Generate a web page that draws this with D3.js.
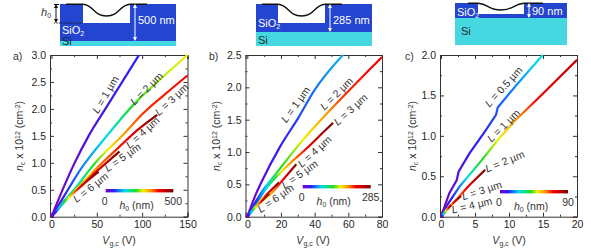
<!DOCTYPE html>
<html>
<head>
<meta charset="utf-8">
<script src="https://cdn.jsdelivr.net/npm/d3@7"></script>
<style>
  html, body { margin: 0; padding: 0; background: #fff; }
  svg { display: block; font-family: "Liberation Sans", Arial, sans-serif; }
  .tick text { font-size: 10.5px; fill: #262626; }
  .lab { font-size: 10.5px; fill: #333; }
</style>
</head>
<body>
<div id="chart"></div>
<script>
// colour bar: fraction of h0 max -> colour
const rainbowStops = [0, 0.12, 0.28, 0.45, 0.55, 0.67, 0.78, 1];
const rainbowColors = ['#7b00c4', '#2a20f5', '#00dcf0', '#22dd22', '#f2f000', '#ff9000', '#f80000', '#7a0000'];

// panel a, h0 max 500 nm
const aVg1 = [0, 13, 25, 41, 59.4, 78, 96.5];
const aNc1 = [0, 0.53, 0.98, 1.5, 2, 2.5, 3];
const aH1 = [0, 12, 22, 32, 42, 52, 60];
const aVg2 = [0, 14.5, 33, 62, 90, 120, 150];
const aNc2 = [0, 0.4, 0.9, 1.52, 2.07, 2.55, 3.0];
const aH2 = [0, 60, 100, 145, 225, 260, 275];
const aVg3 = [0, 22, 51, 79, 100, 125, 150];
const aNc3 = [0, 0.44, 1.05, 1.52, 1.9, 2.27, 2.62];
const aH3 = [0, 125, 240, 325, 370, 380, 390];
const aVg4 = [0, 18, 35, 51, 75, 95, 116.6];
const aNc4 = [0, 0.37, 0.65, 0.92, 1.3, 1.61, 1.89];
const aH4 = [0, 140, 260, 340, 380, 425, 500];
const aVg5 = [0, 10, 25, 40, 55, 75];
const aNc5 = [0, 0.2, 0.47, 0.7, 0.92, 1.21];
const aH5 = [0, 100, 250, 360, 420, 500];
const aVg6 = [0, 5, 15, 25, 35, 52];
const aNc6 = [0, 0.1, 0.29, 0.45, 0.6, 0.835];
const aH6 = [0, 75, 225, 350, 425, 500];

// panel b, h0 max 285 nm
const bVg1 = [0, 5.3, 8.5, 19.4, 30.1, 40, 56.8];
const bNc1 = [0, 0.36, 0.54, 1.08, 1.52, 1.96, 2.5];
const bH1 = [0, 9, 13, 31, 43, 54, 71];
const bVg2 = [0, 9.3, 17.2, 33.5, 46, 56.8, 80];
const bNc2 = [0, 0.41, 0.67, 1.2, 1.56, 1.855, 2.47];
const bH2 = [0, 57, 120, 157, 185, 211, 228];
const bVg3 = [0, 3.4, 11.3, 23.2, 35, 46.5, 50.9];
const bNc3 = [0, 0.13, 0.44, 0.77, 1.05, 1.34, 1.45];
const bH3 = [0, 23, 85, 177, 222, 271, 285];
const bVg4 = [0, 5, 13.3, 21.2, 29.1];
const bNc4 = [0, 0.17, 0.335, 0.57, 0.81];
const bH4 = [0, 80, 177, 228, 285];
const bVg5 = [0, 5, 11, 18.8];
const bNc5 = [0, 0.16, 0.33, 0.53];
const bH5 = [0, 114, 214, 285];
const bVg6 = [0, 4, 8.5, 13];
const bNc6 = [0, 0.12, 0.24, 0.36];
const bH6 = [0, 140, 230, 285];

// panel c, h0 max 90 nm
const cVg05 = [0, 1.22, 2.3, 2.6, 4.16, 6.6, 8.09, 8.34, 11, 14.95];
const cNc05 = [0, 0.29, 0.45, 0.56, 0.78, 1.07, 1.26, 1.35, 1.62, 2.0];
const cH05 = [0, 3, 5, 6, 9, 12, 14, 15, 19, 27];
const cVg1 = [0, 0.25, 2.7, 5.6, 8.57, 11, 14, 20];
const cNc1 = [0, 0.06, 0.37, 0.66, 0.97, 1.2, 1.44, 1.94];
const cH1 = [0, 3, 18, 38, 50, 59, 70, 79];
const cVg2 = [0, 0.8, 1.96, 4.16, 6.5];
const cNc2 = [0, 0.08, 0.185, 0.39, 0.58];
const cH2 = [0, 25, 58, 74, 90];
const cVg3 = [0, 0.8, 1.8, 2.94];
const cNc3 = [0, 0.08, 0.17, 0.256];
const cH3 = [0, 35, 70, 90];
const cVg4 = [0, 0.5, 1.47];
const cNc4 = [0, 0.05, 0.145];
const cH4 = [0, 40, 90];

// tick labels
const aXTicks = [0, 50, 100, 150];
const aXMinor = [25, 75, 125];
const aYTicks = [0, 0.5, 1, 1.5, 2, 2.5, 3];
const aYMinor = [0.25, 0.75, 1.25, 1.75, 2.25, 2.75];
const bXTicks = [0, 20, 40, 60, 80];
const bXMinor = [10, 30, 50, 70];
const bYTicks = [0, 0.5, 1, 1.5, 2, 2.5];
const bYMinor = [0.25, 0.75, 1.25, 1.75, 2.25];
const cXTicks = [0, 5, 10, 15, 20];
const cXMinor = [2.5, 7.5, 12.5, 17.5];
const cYTicks = [0, 0.5, 1, 1.5, 2];
const cYMinor = [0.25, 0.75, 1.25, 1.75];

const svg = d3.select('#chart').append('svg').attr('width', 591).attr('height', 252);
const defs = svg.append('defs');

const colourOf = d3.scaleLinear().domain(rainbowStops).range(rainbowColors).clamp(true);

let gradId = 0;

function makePanel(p) {
  const x = d3.scaleLinear().domain([p.xLo, p.xMax]).range([p.left, p.right]);
  const y = d3.scaleLinear().domain([0, p.yMax]).range([216.7, 55]);
  const g = svg.append('g');

  const fmtY = d3.format('.1f');
  const axes = [
    [d3.axisBottom(x), 216.7, 'x', p.xTicks, p.xMinor, d3.format('d'), -4],
    [d3.axisTop(x), 55, 'x', p.xTicks, p.xMinor, '', -4],
    [d3.axisLeft(y), p.left, 'y', p.yTicks, p.yMinor, fmtY, -4],
    [d3.axisRight(y), p.right, 'y', p.yTicks, p.yMinor, '', -4]
  ];
  axes.forEach(function(a) {
    const tr = a[2] === 'x' ? `translate(0,${a[1]})` : `translate(${a[1]},0)`;
    const major = a[0].tickValues(a[3]).tickSize(a[6]).tickPadding(4)
      .tickFormat(a[5] === '' ? () => '' : a[5]);
    const ga = g.append('g').attr('transform', tr).call(major);
    ga.selectAll('path,line').attr('stroke', '#333').attr('stroke-width', 1);
    const gm = g.append('g').attr('transform', tr)
      .call(major.tickValues(a[4]).tickSize(-2).tickFormat(() => ''));
    gm.select('path').remove();
    gm.selectAll('line').attr('stroke', '#333').attr('stroke-width', 1);
  });

  // curves, coloured along their length by h0
  const line = d3.line().x(d => x(d[0])).y(d => y(d[1])).curve(p.curve);
  p.curves.forEach(function(c) {
    const pts = c.vg.map((v, i) => [v, c.nc[i]]);
    const x0 = x(pts[0][0]), y0 = y(pts[0][1]);
    const x1 = x(pts[pts.length - 1][0]), y1 = y(pts[pts.length - 1][1]);
    const len2 = (x1 - x0) * (x1 - x0) + (y1 - y0) * (y1 - y0);
    const id = 'curve' + (gradId++);
    const grad = defs.append('linearGradient').attr('id', id)
      .attr('gradientUnits', 'userSpaceOnUse')
      .attr('x1', x0).attr('y1', y0).attr('x2', x1).attr('y2', y1);
    // extra stops at the colour bar breaks so the hues stay pure
    const stops = [];
    pts.forEach(function(d, i) {
      const off = ((x(d[0]) - x0) * (x1 - x0) + (y(d[1]) - y0) * (y1 - y0)) / len2;
      stops.push([off, c.h[i] / p.hMax]);
      if (i < pts.length - 1) {
        const next = ((x(pts[i + 1][0]) - x0) * (x1 - x0) + (y(pts[i + 1][1]) - y0) * (y1 - y0)) / len2;
        const ta = c.h[i] / p.hMax, tb = c.h[i + 1] / p.hMax;
        rainbowStops.forEach(function(s) {
          if (s > ta && s < tb) stops.push([off + (next - off) * (s - ta) / (tb - ta), s]);
        });
      }
    });
    stops.forEach(function(s) {
      grad.append('stop').attr('offset', s[0]).attr('stop-color', colourOf(s[1]));
    });
    g.append('path').attr('d', line(pts)).attr('fill', 'none')
      .attr('stroke', `url(#${id})`).attr('stroke-width', 2.2)
      .attr('stroke-linecap', 'butt');
  });

  // curve labels
  p.labels.forEach(function(l) {
    const t = g.append('text').attr('class', 'lab').attr('text-anchor', 'middle')
      .attr('dominant-baseline', 'middle')
      .attr('transform', `translate(${l[1]},${l[2]}) rotate(${l[3]})`);
    t.append('tspan').attr('font-style', 'italic').text('L');
    t.append('tspan').text(` = ${l[0]} µm`);
  });

  // h0 colour bar
  const barId = 'bar' + p.name;
  const bar = defs.append('linearGradient').attr('id', barId);
  rainbowStops.forEach(function(s, i) {
    bar.append('stop').attr('offset', s).attr('stop-color', rainbowColors[i]);
  });
  g.append('rect').attr('x', p.bar[0]).attr('y', p.bar[2] - 1.7)
    .attr('width', p.bar[1] - p.bar[0]).attr('height', 3.4).attr('fill', `url(#${barId})`);
  g.append('text').attr('class', 'lab').attr('text-anchor', 'middle')
    .attr('x', p.bar[0] - 1).attr('y', p.bar[2] + 14.5).text('0');
  g.append('text').attr('class', 'lab').attr('text-anchor', 'middle')
    .attr('x', p.bar[1]).attr('y', p.bar[2] + 14.5).text(p.hMax);
  const ht = g.append('text').attr('class', 'lab').attr('text-anchor', 'middle')
    .attr('x', (p.bar[0] + p.bar[1]) / 2 - 3).attr('y', p.bar[2] + 18);
  ht.append('tspan').attr('font-style', 'italic').text('h');
  ht.append('tspan').attr('font-size', 7).attr('dy', 2).text('0');
  ht.append('tspan').attr('dy', -2).text(' (nm)');

  // axis titles and panel letter
  const xt = g.append('text').attr('class', 'lab').attr('text-anchor', 'middle')
    .attr('x', p.xTitle).attr('y', 244);
  xt.append('tspan').attr('font-style', 'italic').text('V');
  xt.append('tspan').attr('font-size', 7).attr('dy', 2).text('g,c');
  xt.append('tspan').attr('dy', -2).text(' (V)');

  const yt = g.append('text').attr('class', 'lab').attr('text-anchor', 'middle')
    .attr('transform', `translate(${p.yTitle},136) rotate(-90)`);
  yt.append('tspan').attr('font-style', 'italic').text('n');
  yt.append('tspan').attr('font-size', 7).attr('dy', 2).text('c');
  yt.append('tspan').attr('dy', -2).text(' x 10');
  yt.append('tspan').attr('font-size', 7).attr('dy', -3.5).text('12');
  yt.append('tspan').attr('dy', 3.5).text(' (cm');
  yt.append('tspan').attr('font-size', 7).attr('dy', -3.5).text('-2');
  yt.append('tspan').attr('dy', 3.5).text(')');

  g.append('text').attr('class', 'lab').attr('x', p.letter).attr('y', 60).text(p.name + ')');
}

makePanel({
  name: 'a', left: 50, right: 187.5, xLo: -1.65, xMax: 150, yMax: 3, hMax: 500, curve: d3.curveMonotoneX,
  xTicks: aXTicks, xMinor: aXMinor, yTicks: aYTicks, yMinor: aYMinor,
  curves: [
    { vg: aVg1, nc: aNc1, h: aH1 }, { vg: aVg2, nc: aNc2, h: aH2 }, { vg: aVg3, nc: aNc3, h: aH3 },
    { vg: aVg4, nc: aNc4, h: aH4 }, { vg: aVg5, nc: aNc5, h: aH5 }, { vg: aVg6, nc: aNc6, h: aH6 }
  ],
  labels: [['1', 106, 95, -59], ['2', 147, 89, -45], ['3', 172, 100, -43],
    ['4', 143, 133, -42], ['5', 123, 158, -35], ['6', 91, 188, -38]],
  bar: [105.7, 173.3, 190.7], xTitle: 119, yTitle: 23, letter: 13
});

makePanel({
  name: 'b', left: 245.5, right: 382, xLo: -1.07, xMax: 80, yMax: 2.5, hMax: 285, curve: d3.curveMonotoneX,
  xTicks: bXTicks, xMinor: bXMinor, yTicks: bYTicks, yMinor: bYMinor,
  curves: [
    { vg: bVg1, nc: bNc1, h: bH1 }, { vg: bVg2, nc: bNc2, h: bH2 }, { vg: bVg3, nc: bNc3, h: bH3 },
    { vg: bVg4, nc: bNc4, h: bH4 }, { vg: bVg5, nc: bNc5, h: bH5 }, { vg: bVg6, nc: bNc6, h: bH6 }
  ],
  labels: [['1', 296, 105, -54], ['2', 337, 94, -45], ['3', 351, 110, -42],
    ['4', 315, 152, -42], ['5', 300, 175, -35], ['6', 276, 199, -35]],
  bar: [302.7, 370.7, 186.7], xTitle: 313, yTitle: 220, letter: 209
});

makePanel({
  name: 'c', left: 440, right: 577, xLo: -0.15, xMax: 20, yMax: 2, hMax: 90, curve: d3.curveLinear,
  xTicks: cXTicks, xMinor: cXMinor, yTicks: cYTicks, yMinor: cYMinor,
  curves: [
    { vg: cVg05, nc: cNc05, h: cH05 }, { vg: cVg1, nc: cNc1, h: cH1 }, { vg: cVg2, nc: cNc2, h: cH2 },
    { vg: cVg3, nc: cNc3, h: cH3 }, { vg: cVg4, nc: cNc4, h: cH4 }
  ],
  labels: [['0.5', 504, 87, -48], ['1', 504, 126, -45], ['2', 505, 162, -22],
    ['3', 482, 191, -18], ['4', 472, 206, -13]],
  bar: [500, 568, 191.7], xTitle: 509, yTitle: 416, letter: 405
});

// device sketches above the panels
function makeSketch(s) {
  const g = svg.append('g');
  g.append('rect').attr('x', s.x0).attr('y', s.top).attr('width', s.x1 - s.x0)
    .attr('height', s.oxide - s.top).attr('fill', '#2445cf');
  g.append('rect').attr('x', s.x0).attr('y', s.oxide).attr('width', s.x1 - s.x0)
    .attr('height', s.bottom - s.oxide).attr('fill', '#45d8e0');
  g.append('rect').attr('x', s.holeL).attr('y', s.top).attr('width', s.holeR - s.holeL)
    .attr('height', s.hole - s.top).attr('fill', '#fff');

  const mid = (s.holeL + s.holeR) / 2;
  g.append('path').attr('fill', 'none').attr('stroke', '#111').attr('stroke-width', 1.4)
    .attr('d', `M${s.flatL},${s.top + 0.3}H${s.holeL}C${s.holeL + 11},${s.top + 1} ${mid - 13},${s.sag} ${mid},${s.sag}` +
      `C${mid + 13},${s.sag} ${s.holeR - 11},${s.top + 1} ${s.holeR},${s.top + 0.3}H${s.flatR}`);

  // thickness arrow
  const ax = s.holeR + 5;
  g.append('path').attr('fill', 'none').attr('stroke', '#fff').attr('stroke-width', 1)
    .attr('d', `M${ax},${s.top + 1}V${s.oxide - 1}`);
  g.append('path').attr('fill', '#fff')
    .attr('d', `M${ax},${s.top}l-2,4h4zM${ax},${s.oxide}l-2,-4h4z`);
  g.append('text').attr('x', ax + 3).attr('y', s.textY).attr('font-size', 11).attr('fill', '#fff').text(s.label);

  const so = g.append('text').attr('x', s.sioX).attr('y', s.sioY).attr('font-size', 11).attr('fill', '#fff');
  so.append('tspan').text('SiO');
  so.append('tspan').attr('font-size', 7).attr('dy', 2).text('2');
  g.append('text').attr('x', s.siX).attr('y', s.siY).attr('font-size', 11).attr('fill', '#1a2a2a').text('Si');
}

makeSketch({ x0: 60, x1: 176, top: 4, oxide: 41, bottom: 46, holeL: 83, holeR: 130, hole: 23, sag: 16,
  flatL: 66, flatR: 147, label: '500 nm', textY: 24, sioX: 62, sioY: 34, siX: 62, siY: 44.5 });
makeSketch({ x0: 256, x1: 372, top: 4, oxide: 32, bottom: 46, holeL: 278, holeR: 325, hole: 23, sag: 16,
  flatL: 262, flatR: 342, label: '285 nm', textY: 24, sioX: 258, sioY: 27, siX: 258, siY: 44 });
makeSketch({ x0: 455, x1: 567, top: 3, oxide: 18, bottom: 45, holeL: 478, holeR: 524, hole: 14, sag: 10,
  flatL: 468, flatR: 543, label: '90 nm', textY: 15, sioX: 457, sioY: 16, siX: 461, siY: 35 });

// h0 marker on the first sketch
const h0g = svg.append('g');
h0g.append('path').attr('fill', 'none').attr('stroke', '#111').attr('stroke-dasharray', '1.2,1.2')
  .attr('d', 'M54,23H83');
h0g.append('path').attr('fill', 'none').attr('stroke', '#111').attr('d', 'M56,5V22M54,4.5H59');
h0g.append('path').attr('fill', '#111').attr('d', 'M56,4l-2,4h4zM56,23l-2,-4h4z');
const h0t = h0g.append('text').attr('x', 41).attr('y', 16).attr('font-size', 11).attr('fill', '#333');
h0t.append('tspan').attr('font-style', 'italic').text('h');
h0t.append('tspan').attr('font-size', 7).attr('dy', 2).text('0');
</script>
</body>
</html>
